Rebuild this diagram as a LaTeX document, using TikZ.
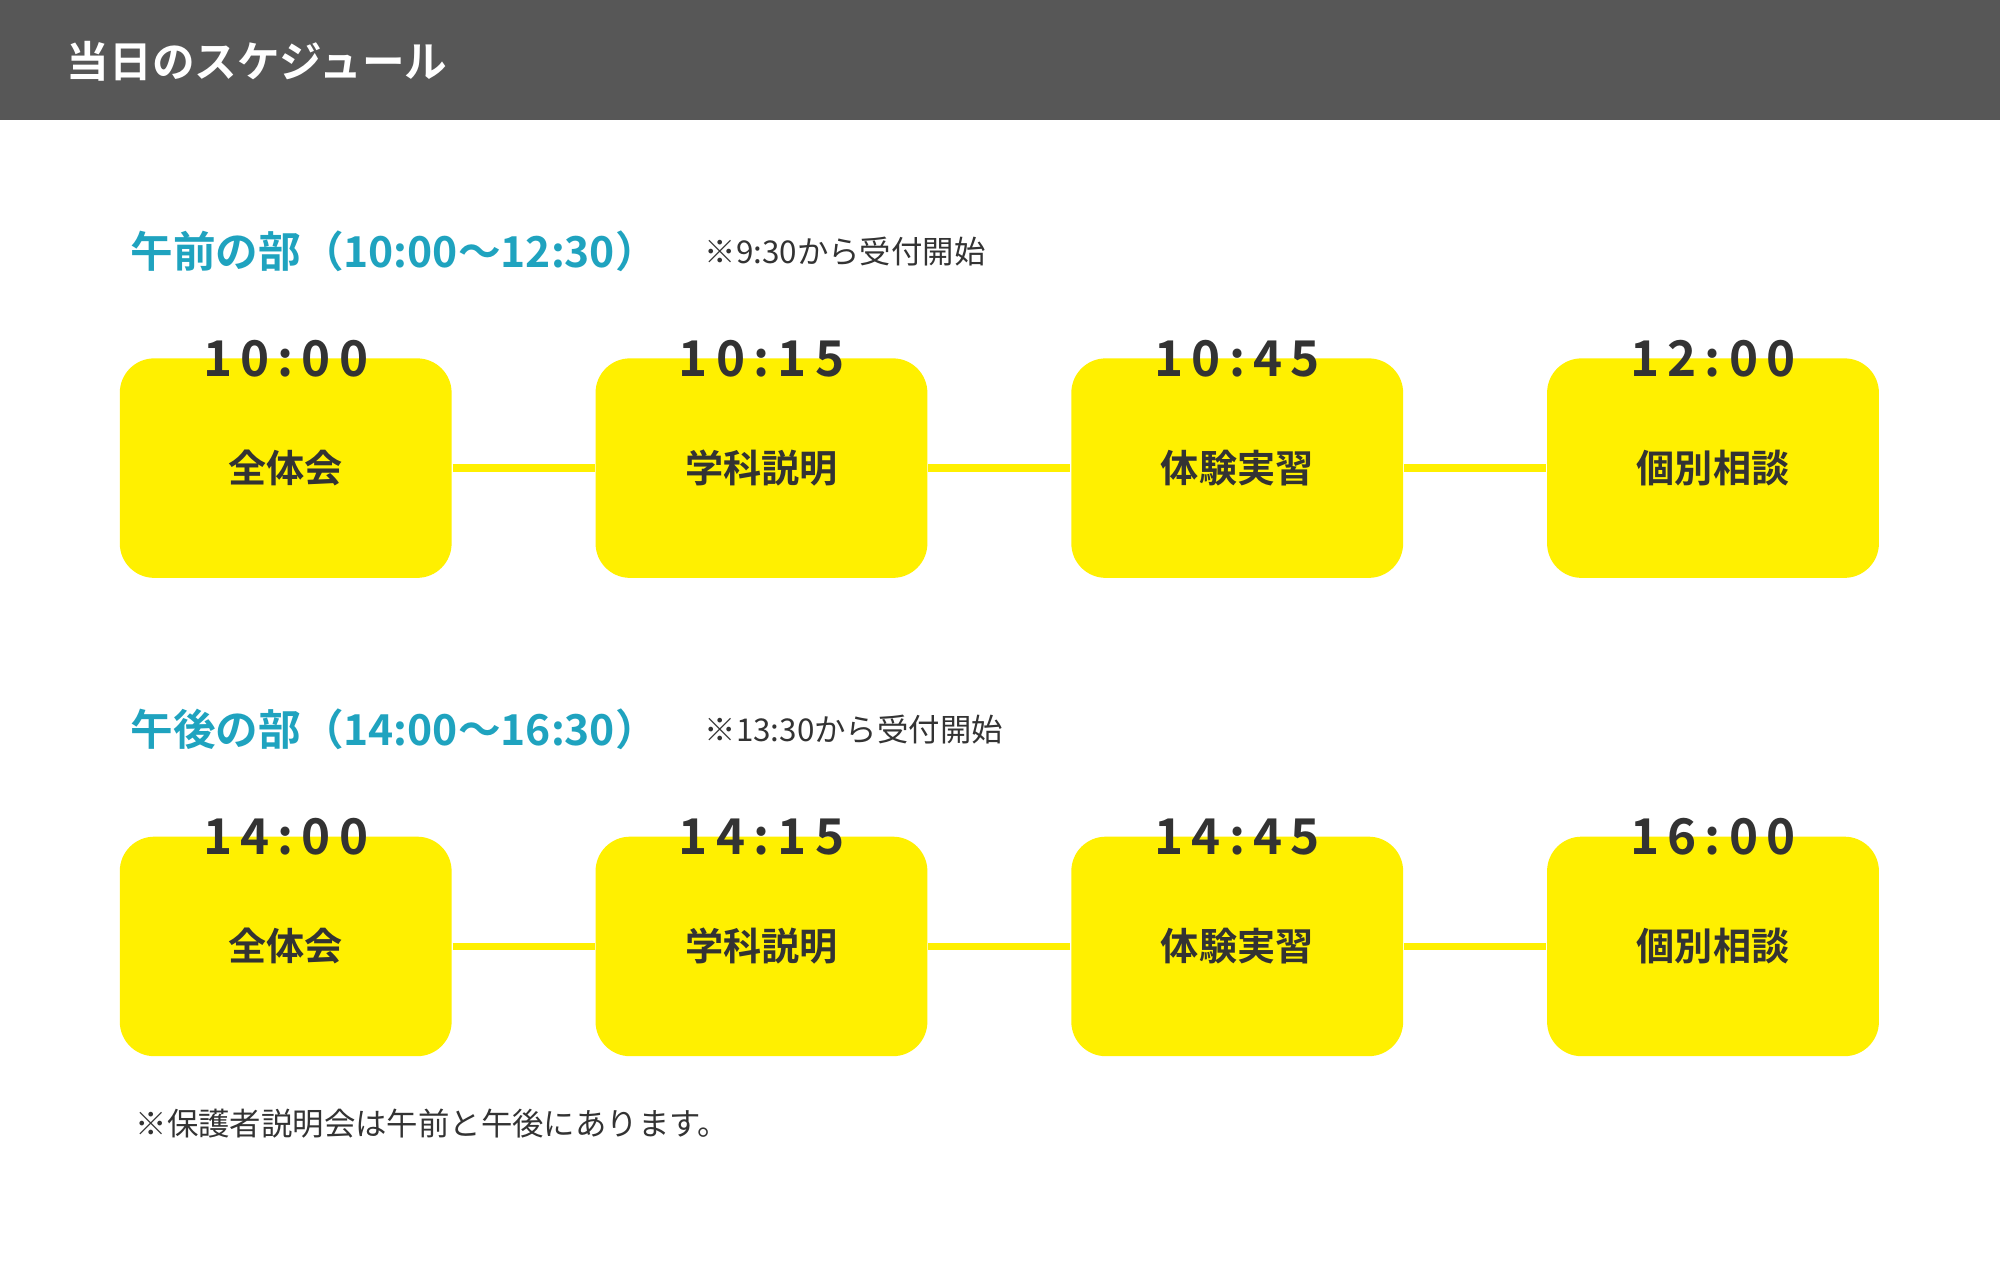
\documentclass[tikz,border=0pt]{standalone}
\usepackage{fontspec}
\setmainfont{Noto Sans CJK JP}
\newfontfamily\jpbold{Noto Sans CJK JP Bold}
\definecolor{headgray}{HTML}{575757}
\definecolor{boxyellow}{HTML}{FFF000}
\definecolor{titleteal}{HTML}{1FA3BF}
\definecolor{textdark}{HTML}{333333}
\tikzset{
	stepbox/.style={fill=boxyellow, rounded corners=0.27cm, minimum width=2.6cm, minimum height=1.72cm, inner sep=0pt, font=\jpbold\fontsize{8.5}{10}\selectfont, text=textdark},
	timelabel/.style={font=\jpbold\fontsize{11}{12}\selectfont, text=textdark},
	link/.style={boxyellow, line width=0.06cm},
	sectitle/.style={anchor=west, font=\jpbold\fontsize{9.5}{11}\selectfont, text=titleteal},
	notetext/.style={anchor=west, font=\fontsize{7}{8}\selectfont, text=textdark}
}
\begin{document}
\begin{tikzpicture}[x=0.01cm, y=-0.01cm]

	% page and header band
	\useasboundingbox (0,0) rectangle (1568,1006.7);
	\fill[white] (0,0) rectangle (1568,1006.7);
	\fill[headgray] (0,0) rectangle (1568,94);
	\node[anchor=west, text=white, font=\jpbold\fontsize{9.5}{11}\selectfont] (header) at (40,48) {当日のスケジュール};

	% morning titles
	\node[sectitle] (amtitle) at (90,197) {午前の部（10:00〜12:30）};
	\node[notetext] (amnote) at (540,197) {※9:30から受付開始};

	% morning boxes
	\node[stepbox] (am1) at (224,367) {全体会};
	\node[stepbox] (am2) at (597,367) {学科説明};
	\node[stepbox] (am3) at (970,367) {体験実習};
	\node[stepbox] (am4) at (1343,367) {個別相談};
	\node[timelabel] (amt1) at (224,281) {1\,0\,:\,0\,0};
	\node[timelabel] (amt2) at (597,281) {1\,0\,:\,1\,5};
	\node[timelabel] (amt3) at (970,281) {1\,0\,:\,4\,5};
	\node[timelabel] (amt4) at (1343,281) {1\,2\,:\,0\,0};
	\draw[link] (am1) -- (am2);
	\draw[link] (am2) -- (am3);
	\draw[link] (am3) -- (am4);

	% afternoon titles
	\node[sectitle] (pmtitle) at (90,572) {午後の部（14:00〜16:30）};
	\node[notetext] (pmnote) at (540,572) {※13:30から受付開始};

	% afternoon boxes
	\node[stepbox] (pm1) at (224,742) {全体会};
	\node[stepbox] (pm2) at (597,742) {学科説明};
	\node[stepbox] (pm3) at (970,742) {体験実習};
	\node[stepbox] (pm4) at (1343,742) {個別相談};
	\node[timelabel] (pmt1) at (224,656) {1\,4\,:\,0\,0};
	\node[timelabel] (pmt2) at (597,656) {1\,4\,:\,1\,5};
	\node[timelabel] (pmt3) at (970,656) {1\,4\,:\,4\,5};
	\node[timelabel] (pmt4) at (1343,656) {1\,6\,:\,0\,0};
	\draw[link] (pm1) -- (pm2);
	\draw[link] (pm2) -- (pm3);
	\draw[link] (pm3) -- (pm4);

	% footnote
	\node[notetext] (footnote) at (94,881) {※保護者説明会は午前と午後にあります。};

\end{tikzpicture}
\end{document}
